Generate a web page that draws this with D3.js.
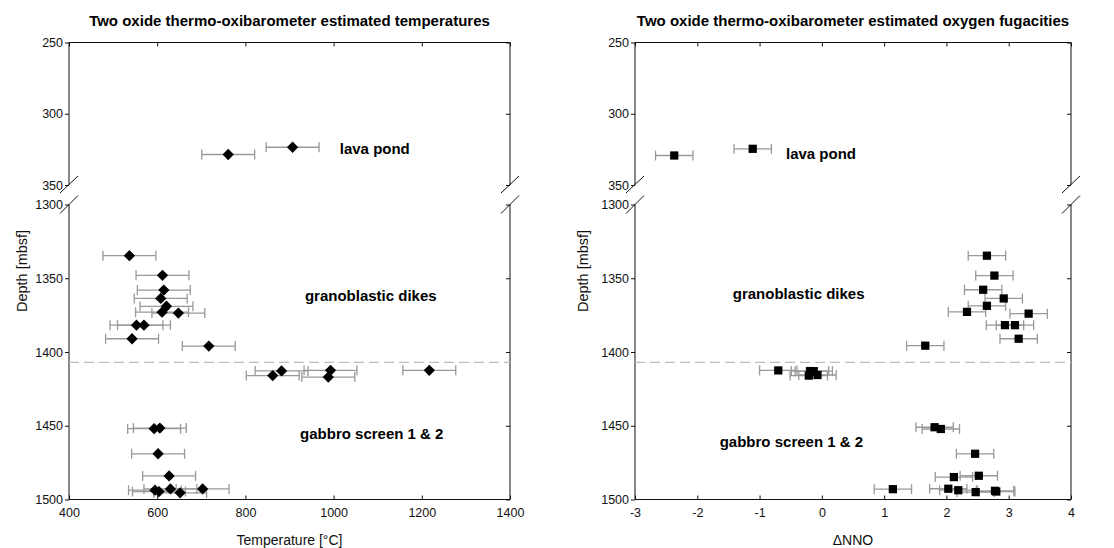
<!DOCTYPE html>
<html>
<head>
<meta charset="utf-8">
<script src="https://cdn.jsdelivr.net/npm/d3@7"></script>
<style>
  html, body { margin: 0; padding: 0; background: #fff; }
  svg { display: block; font-family: "Liberation Sans", Arial, sans-serif; }
</style>
</head>
<body>
<svg id="chart" width="1114" height="548"></svg>
<script>
// ---------------- data ----------------
const panelTitles = [
  "Two oxide thermo-oxibarometer estimated temperatures",
  "Two oxide thermo-oxibarometer estimated oxygen fugacities"
];
const xAxisTitles = ["Temperature [°C]", "\u0394NNO"];
const yAxisTitle = "Depth [mbsf]";
const depthTicksUpper = [250, 300, 350];
const depthTicksLower = [1300, 1350, 1400, 1450, 1500];
const tempTicks = [400, 600, 800, 1000, 1200, 1400];
const nnoTicks = [-3, -2, -1, 0, 1, 2, 3, 4];
const unitLabels = ["lava pond", "granoblastic dikes", "gabbro screen 1 & 2"];
const boundaryDepth = 1407;

// temperature panel
const tempDepth = [328.6, 323.5,
  1334.7, 1348, 1358, 1363.7, 1369, 1373, 1373.6, 1381.8, 1381.8, 1391, 1396,
  1412.8, 1416, 1412.4, 1417, 1412.4,
  1452, 1451.6, 1469, 1484, 1493.7, 1494.6, 1492.8, 1495.5, 1492.8];
const tempValue = [761, 907,
  537, 612, 615, 608, 621, 611, 648, 553, 570, 543, 717,
  882, 862, 993, 988, 1217,
  593, 606, 602, 627, 595, 604, 630, 652, 703];
const tempErr = 60;

// oxygen fugacity panel
const nnoDepth = [329.3, 324.6,
  1334.7, 1348.2, 1357.8, 1363.7, 1368.7, 1372.8, 1374, 1381.8, 1381.8, 1391, 1395.7,
  1412.5, 1412.9, 1413, 1416, 1415.6,
  1451, 1452.2, 1469, 1484.8, 1483.9, 1493, 1492.7, 1493.7, 1495, 1494.1, 1494.6];
const nnoValue = [-2.37, -1.11,
  2.65, 2.77, 2.59, 2.92, 2.65, 2.33, 3.32, 2.94, 3.10, 3.16, 1.66,
  -0.70, -0.19, -0.13, -0.21, -0.07,
  1.81, 1.91, 2.46, 2.12, 2.52, 1.14, 2.03, 2.19, 2.47, 2.78, 2.80];
const nnoErr = 0.3;

// ---------------- drawing ----------------
const svg = d3.select("#chart");
const fmt = d => String(d);

function drawPanel(cfg) {
  const g = svg.append("g");
  const x = d3.scaleLinear().domain(cfg.xDomain).range([cfg.x0, cfg.x1]);
  const yU = d3.scaleLinear().domain([250, 350]).range([42.5, 185]);
  const yL = d3.scaleLinear().domain([1300, 1500]).range([204.5, 499.5]);
  const y = d => d < 800 ? yU(d) : yL(d);
  const x0 = cfg.x0, x1 = cfg.x1;

  // frame lines
  const line = (ax, ay, bx, by) => g.append("line")
    .attr("x1", ax).attr("y1", ay).attr("x2", bx).attr("y2", by)
    .attr("stroke", "#111").attr("stroke-width", 1);
  line(x0, yU(250), x1, yU(250));
  line(x0, yL(1500), x1, yL(1500));
  [x0, x1].forEach(xx => {
    line(xx, yU(250), xx, yU(350));
    line(xx, yL(1300), xx, yL(1500));
    line(xx - 9, yU(350) + 8, xx + 9, yU(350) - 9);
    line(xx - 9, yL(1300) + 9, xx + 9, yL(1300) - 9);
  });

  // x axis (bottom, inward ticks + labels)
  const xb = d3.axisBottom(x).tickValues(cfg.xTicks).tickSize(-4).tickPadding(9)
    .tickFormat(fmt);
  const gxb = g.append("g").attr("transform", `translate(0,${yL(1500)})`).call(xb);
  gxb.select(".domain").remove();
  gxb.selectAll("text").attr("font-size", 12.5).attr("fill", "#111")
    .attr("font-family", "Liberation Sans, Arial, sans-serif");
  gxb.selectAll("line").attr("stroke", "#111");
  // x axis top ticks (inward)
  const xt = d3.axisTop(x).tickValues(cfg.xTicks).tickSize(-4).tickFormat("");
  const gxt = g.append("g").attr("transform", `translate(0,${yU(250)})`).call(xt);
  gxt.select(".domain").remove();
  gxt.selectAll("line").attr("stroke", "#111");

  // y axis labels & ticks
  function yAxis(scale, ticks) {
    const l = d3.axisLeft(scale).tickValues(ticks).tickSize(4).tickPadding(2)
      .tickFormat(fmt);
    const gl = g.append("g").attr("transform", `translate(${x0},0)`).call(l);
    gl.select(".domain").remove();
    gl.selectAll("text").attr("font-size", 12.5).attr("fill", "#111")
      .attr("font-family", "Liberation Sans, Arial, sans-serif");
    gl.selectAll("line").attr("stroke", "#111");
    const r = d3.axisRight(scale).tickValues(ticks).tickSize(-4).tickFormat("");
    const gr = g.append("g").attr("transform", `translate(${x1},0)`).call(r);
    gr.select(".domain").remove();
    gr.selectAll("line").attr("stroke", "#111");
  }
  yAxis(yU, depthTicksUpper);
  yAxis(yL, depthTicksLower);

  // boundary dashed line
  g.append("line")
    .attr("x1", x0).attr("x2", x1)
    .attr("y1", yL(boundaryDepth)).attr("y2", yL(boundaryDepth))
    .attr("stroke", "#bdbdbd").attr("stroke-width", 1.2)
    .attr("stroke-dasharray", "10,5");

  // error bars
  const pts = cfg.values.map((v, i) => ({ v, d: cfg.depths[i] }));
  const eb = g.append("g").attr("stroke", "#999").attr("stroke-width", 1.3);
  pts.forEach(p => {
    const yy = y(p.d);
    const xa = x(p.v - cfg.err), xb2 = x(p.v + cfg.err);
    eb.append("line").attr("x1", xa).attr("x2", xb2).attr("y1", yy).attr("y2", yy);
    eb.append("line").attr("x1", xa).attr("x2", xa).attr("y1", yy - 5).attr("y2", yy + 5);
    eb.append("line").attr("x1", xb2).attr("x2", xb2).attr("y1", yy - 5).attr("y2", yy + 5);
  });

  // markers
  const sym = d3.symbol().type(d3.symbolSquare)
    .size(cfg.marker === "diamond" ? 64 : 68);
  g.append("g").selectAll("path").data(pts).join("path")
    .attr("d", sym)
    .attr("fill", "#000")
    .attr("transform", p => `translate(${x(p.v)},${y(p.d)})` + (cfg.marker === "diamond" ? " rotate(45)" : ""));

  // unit labels
  cfg.labelPos.forEach((lp, i) => {
    g.append("text")
      .attr("x", x(lp[0])).attr("y", y(lp[1])).attr("dy", "0.36em")
      .attr("font-size", 15).attr("font-weight", "bold").attr("fill", "#000")
      .text(unitLabels[i]);
  });

  // title
  g.append("text")
    .attr("x", (x0 + x1) / 2).attr("y", 26)
    .attr("text-anchor", "middle").attr("font-size", 15).attr("font-weight", "bold")
    .attr("fill", "#000").text(cfg.title);

  // x axis title
  g.append("text")
    .attr("x", (x0 + x1) / 2).attr("y", 545)
    .attr("text-anchor", "middle").attr("font-size", 14).attr("fill", "#111")
    .text(cfg.xTitle);

  // y axis title
  g.append("text")
    .attr("transform", `translate(${cfg.yTitleX},271) rotate(-90)`)
    .attr("text-anchor", "middle").attr("dy", "0.36em")
    .attr("font-size", 14.5).attr("fill", "#111")
    .text(yAxisTitle);
}

drawPanel({
  x0: 69, x1: 510, xDomain: [400, 1400], xTicks: tempTicks,
  depths: tempDepth, values: tempValue, err: tempErr, marker: "diamond",
  labelPos: [[1014, 324.7], [935, 1362], [924, 1455.6]],
  title: panelTitles[0], xTitle: xAxisTitles[0], yTitleX: 22
});
drawPanel({
  x0: 635, x1: 1071, xDomain: [-3, 4], xTicks: nnoTicks,
  depths: nnoDepth, values: nnoValue, err: nnoErr, marker: "square",
  labelPos: [[-0.576, 327.9], [-1.43, 1360.7], [-1.64, 1461]],
  title: panelTitles[1], xTitle: xAxisTitles[1], yTitleX: 583
});
</script>
</body>
</html>
